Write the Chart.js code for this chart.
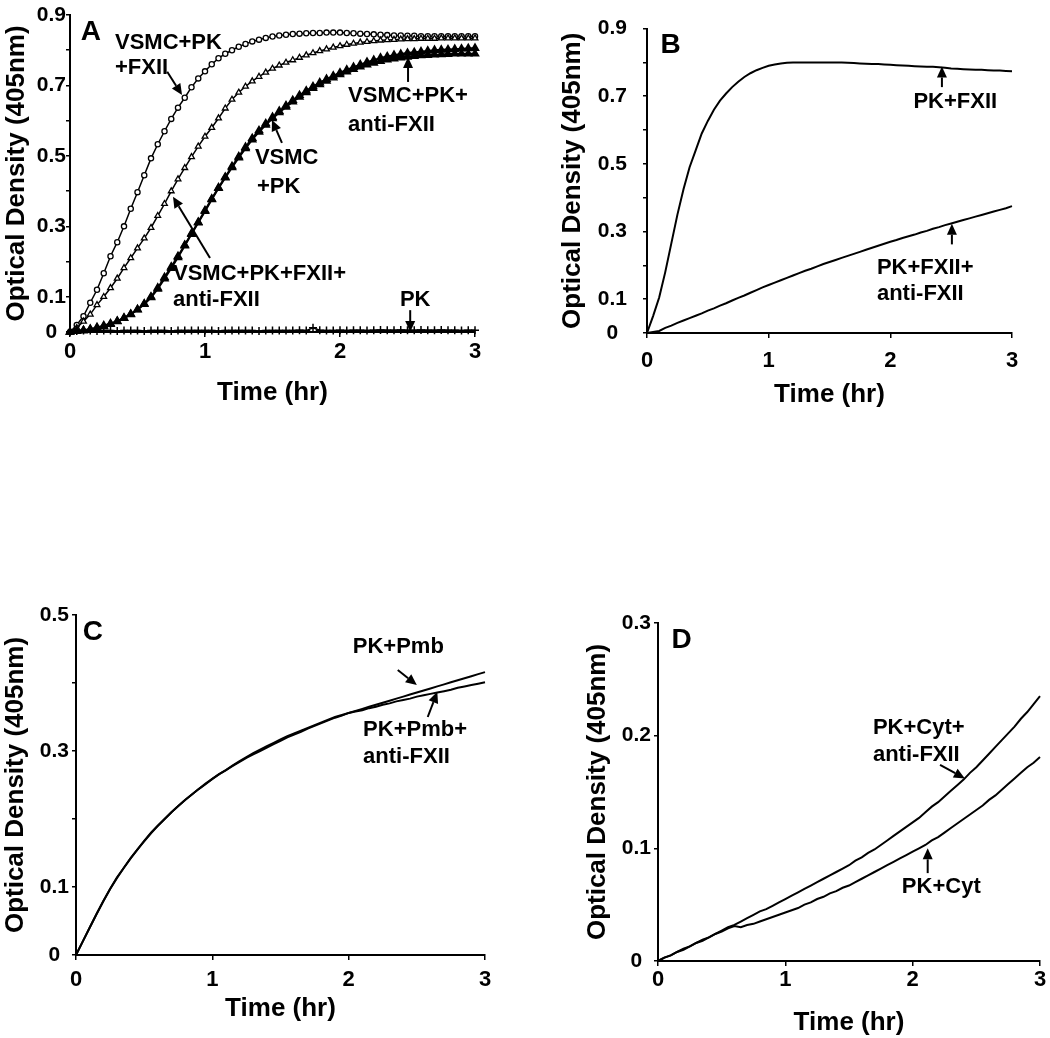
<!DOCTYPE html>
<html>
<head>
<meta charset="utf-8">
<script src="https://cdn.jsdelivr.net/npm/chart.js@4"></script>
<style>
  body { margin: 0; background: #fff; width: 1050px; height: 1038px; position: relative; overflow: hidden; }
  canvas { position: absolute; }
</style>
</head>
<body>
<canvas id="panelA" width="525" height="420" style="left:0;top:0"></canvas>
<canvas id="panelB" width="525" height="420" style="left:525px;top:0"></canvas>
<canvas id="panelC" width="525" height="448" style="left:0;top:590px"></canvas>
<canvas id="panelD" width="525" height="448" style="left:525px;top:590px"></canvas>
<script>
// sampling times (hr), shared by every curve
const TIME = [
  0, 0.05, 0.1, 0.15, 0.2, 0.25, 0.3, 0.35, 0.4, 0.45,
  0.5, 0.55, 0.6, 0.65, 0.7, 0.75, 0.8, 0.85, 0.9, 0.95,
  1.0, 1.05, 1.1, 1.15, 1.2, 1.25, 1.3, 1.35, 1.4, 1.45,
  1.5, 1.55, 1.6, 1.65, 1.7, 1.75, 1.8, 1.85, 1.9, 1.95,
  2.0, 2.05, 2.1, 2.15, 2.2, 2.25, 2.3, 2.35, 2.4, 2.45,
  2.5, 2.55, 2.6, 2.65, 2.7, 2.75, 2.8, 2.85, 2.9, 2.95,
  3.0
];

// ---- panel A ----
const A_VSMC_PK_FXII = [
  0, 0.02, 0.045, 0.083, 0.12, 0.167, 0.215, 0.255, 0.30, 0.35,
  0.397, 0.445, 0.493, 0.533, 0.57, 0.605, 0.637, 0.665, 0.695, 0.72,
  0.74, 0.76, 0.777, 0.79, 0.80, 0.81, 0.818, 0.825, 0.83, 0.835,
  0.839, 0.842, 0.844, 0.846, 0.847, 0.848, 0.849, 0.849, 0.85, 0.85,
  0.85, 0.849, 0.848, 0.847, 0.846, 0.845, 0.844, 0.843, 0.842, 0.842,
  0.841, 0.841, 0.84, 0.84, 0.84, 0.84, 0.84, 0.84, 0.84, 0.84,
  0.84
];
const A_VSMC_PK_FXII_ANTI = [
  0, 0.012, 0.03, 0.05, 0.077, 0.10, 0.125, 0.152, 0.182, 0.21,
  0.238, 0.266, 0.296, 0.33, 0.364, 0.40, 0.434, 0.466, 0.497, 0.527,
  0.555, 0.58, 0.607, 0.635, 0.66, 0.68, 0.697, 0.712, 0.725, 0.737,
  0.748, 0.757, 0.765, 0.772, 0.779, 0.786, 0.792, 0.798, 0.803, 0.808,
  0.812, 0.816, 0.819, 0.822, 0.824, 0.826, 0.828, 0.829, 0.83, 0.831,
  0.832, 0.832, 0.833, 0.833, 0.833, 0.834, 0.834, 0.834, 0.834, 0.834,
  0.834
];
const A_VSMC_PK = [
  0, 0.003, 0.005, 0.008, 0.013, 0.018, 0.024, 0.031, 0.04, 0.051,
  0.064, 0.08, 0.10, 0.125, 0.155, 0.185, 0.215, 0.247, 0.28, 0.312,
  0.345, 0.378, 0.41, 0.44, 0.47, 0.498, 0.525, 0.55, 0.572, 0.592,
  0.61, 0.627, 0.643, 0.658, 0.672, 0.685, 0.697, 0.708, 0.718, 0.727,
  0.736, 0.744, 0.752, 0.759, 0.766, 0.772, 0.778, 0.782, 0.786, 0.789,
  0.792, 0.794, 0.796, 0.798, 0.80, 0.801, 0.802, 0.803, 0.804, 0.805,
  0.806
];
const A_VSMC_PK_ANTI = [
  0, 0.002, 0.004, 0.007, 0.011, 0.016, 0.022, 0.03, 0.039, 0.05,
  0.063, 0.079, 0.098, 0.122, 0.151, 0.181, 0.212, 0.245, 0.278, 0.31,
  0.343, 0.376, 0.408, 0.438, 0.467, 0.495, 0.521, 0.546, 0.568, 0.588,
  0.606, 0.623, 0.639, 0.654, 0.667, 0.68, 0.692, 0.703, 0.713, 0.722,
  0.731, 0.739, 0.746, 0.753, 0.759, 0.764, 0.769, 0.773, 0.776, 0.779,
  0.781, 0.783, 0.785, 0.786, 0.787, 0.788, 0.789, 0.79, 0.79, 0.79,
  0.79
];
const A_PK = [
  0, 0.003, 0.004, 0.004, 0.003, 0.004, 0.004, 0.003, 0.004, 0.004,
  0.004, 0.003, 0.004, 0.004, 0.004, 0.003, 0.004, 0.004, 0.004, 0.004,
  0.004, 0.004, 0.003, 0.004, 0.004, 0.004, 0.004, 0.004, 0.003, 0.004,
  0.004, 0.004, 0.004, 0.004, 0.005, 0.004, 0.012, 0.005, 0.004, 0.004,
  0.005, 0.004, 0.005, 0.005, 0.004, 0.005, 0.006, 0.005, 0.005, 0.006,
  0.005, 0.005, 0.006, 0.005, 0.005, 0.006, 0.005, 0.005, 0.004, 0.005,
  0.005
];

// ---- panel B ----
const B_PK_FXII = [
  0, 0.05, 0.105, 0.18, 0.265, 0.35, 0.425, 0.49, 0.54, 0.59,
  0.627, 0.66, 0.687, 0.708, 0.727, 0.743, 0.757, 0.768, 0.777, 0.784,
  0.79, 0.794, 0.797, 0.799, 0.80, 0.80, 0.80, 0.80, 0.80, 0.80,
  0.80, 0.80, 0.80, 0.799, 0.798, 0.797, 0.796, 0.795, 0.795, 0.794,
  0.793, 0.792, 0.791, 0.79, 0.789, 0.788, 0.787, 0.787, 0.786, 0.784,
  0.782, 0.781, 0.78, 0.779, 0.778, 0.778, 0.777, 0.776, 0.776, 0.775,
  0.774
];
const B_PK_FXII_ANTI = [
  0, 0.003, 0.006, 0.015, 0.022, 0.03, 0.037, 0.044, 0.051, 0.058,
  0.066, 0.073, 0.081, 0.088, 0.096, 0.104, 0.111, 0.119, 0.127, 0.135,
  0.142, 0.149, 0.156, 0.163, 0.17, 0.177, 0.184, 0.19, 0.197, 0.204,
  0.21, 0.216, 0.222, 0.228, 0.234, 0.24, 0.246, 0.252, 0.258, 0.264,
  0.27, 0.275, 0.281, 0.286, 0.291, 0.297, 0.302, 0.308, 0.313, 0.319,
  0.324, 0.329, 0.334, 0.339, 0.344, 0.349, 0.354, 0.359, 0.364, 0.369,
  0.375
];

// ---- panel C ----
const C_PK_PMB = [
  0, 0.02, 0.04, 0.06, 0.079, 0.097, 0.114, 0.128, 0.142, 0.155,
  0.168, 0.18, 0.19, 0.20, 0.21, 0.219, 0.228, 0.236, 0.244, 0.252,
  0.259, 0.266, 0.272, 0.278, 0.284, 0.29, 0.295, 0.30, 0.305, 0.31,
  0.315, 0.32, 0.324, 0.328, 0.333, 0.337, 0.341, 0.345, 0.349, 0.352,
  0.356, 0.359, 0.362, 0.365, 0.368, 0.371, 0.374, 0.377, 0.38, 0.383,
  0.386, 0.389, 0.392, 0.395, 0.398, 0.401, 0.404, 0.407, 0.41, 0.413,
  0.416
];
const C_PK_PMB_ANTI = [
  0, 0.02, 0.04, 0.06, 0.079, 0.097, 0.113, 0.128, 0.142, 0.155,
  0.167, 0.179, 0.19, 0.20, 0.21, 0.219, 0.228, 0.236, 0.244, 0.251,
  0.259, 0.266, 0.272, 0.279, 0.285, 0.291, 0.297, 0.302, 0.307, 0.312,
  0.317, 0.322, 0.326, 0.33, 0.334, 0.338, 0.342, 0.346, 0.35, 0.353,
  0.356, 0.358, 0.36, 0.363, 0.365, 0.368, 0.37, 0.373, 0.375, 0.377,
  0.38, 0.382, 0.384, 0.386, 0.388, 0.39, 0.393, 0.395, 0.397, 0.399,
  0.401
];

// ---- panel D ----
const D_PK_CYT_ANTI = [
  0, 0.003, 0.005, 0.008, 0.01, 0.013, 0.016, 0.018, 0.021, 0.024,
  0.027, 0.03, 0.032, 0.035, 0.038, 0.041, 0.044, 0.046, 0.049, 0.052,
  0.055, 0.058, 0.061, 0.064, 0.067, 0.07, 0.073, 0.076, 0.079, 0.082,
  0.085, 0.089, 0.092, 0.096, 0.099, 0.103, 0.107, 0.111, 0.115, 0.119,
  0.123, 0.127, 0.132, 0.137, 0.141, 0.146, 0.151, 0.156, 0.161, 0.167,
  0.172, 0.178, 0.184, 0.19, 0.196, 0.202, 0.208, 0.215, 0.221, 0.228,
  0.235
];
const D_PK_CYT = [
  0, 0.003, 0.005, 0.008, 0.011, 0.013, 0.016, 0.019, 0.021, 0.024,
  0.026, 0.029, 0.031, 0.03, 0.032, 0.033, 0.035, 0.037, 0.039, 0.041,
  0.043, 0.045, 0.047, 0.05, 0.052, 0.055, 0.057, 0.06, 0.062, 0.065,
  0.067, 0.07, 0.073, 0.076, 0.079, 0.082, 0.085, 0.088, 0.091, 0.094,
  0.097, 0.10, 0.103, 0.107, 0.11, 0.114, 0.118, 0.122, 0.126, 0.13,
  0.134, 0.138, 0.143, 0.147, 0.152, 0.157, 0.162, 0.167, 0.172, 0.176,
  0.181
];

// labelled ticks
const X_LABELS = [0, 1, 2, 3];
const A_Y_LABELS = [0, 0.1, 0.3, 0.5, 0.7, 0.9];
const B_Y_LABELS = [0, 0.1, 0.3, 0.5, 0.7, 0.9];
const C_Y_LABELS = [0, 0.1, 0.3, 0.5];
const D_Y_LABELS = [0, 0.1, 0.2, 0.3];

const FONT = '"Liberation Sans", Arial, Helvetica, sans-serif';
Chart.defaults.font.family = FONT;
Chart.defaults.color = '#000';

function labelOf(v, list) {
  const hit = list.find(l => Math.abs(l - v) < 1e-6);
  return hit === undefined ? '' : String(hit);
}

function series(values, extra) {
  return Object.assign({
    data: TIME.map((t, i) => ({ x: t, y: values[i] })),
    borderColor: '#000',
    borderWidth: 2,
    pointRadius: 0,
    tension: 0,
    clip: false
  }, extra || {});
}

// text labels and arrows placed in data coordinates
const notesPlugin = {
  id: 'notes',
  afterDatasetsDraw(chart, args, opts) {
    const ctx = chart.ctx;
    const xs = chart.scales.x, ys = chart.scales.y;
    ctx.save();
    ctx.fillStyle = '#000';
    ctx.strokeStyle = '#000';
    (opts.texts || []).forEach(n => {
      ctx.font = 'bold ' + (n.size || 22) + 'px ' + FONT;
      ctx.textAlign = 'left';
      ctx.textBaseline = 'middle';
      ctx.fillText(n.text, xs.getPixelForValue(n.t), ys.getPixelForValue(n.v));
    });
    (opts.arrows || []).forEach(a => {
      const x0 = xs.getPixelForValue(a.from[0]), y0 = ys.getPixelForValue(a.from[1]);
      const x1 = xs.getPixelForValue(a.to[0]), y1 = ys.getPixelForValue(a.to[1]);
      const ang = Math.atan2(y1 - y0, x1 - x0);
      const head = 11, half = 5;
      const bx = x1 - head * Math.cos(ang), by = y1 - head * Math.sin(ang);
      ctx.lineWidth = 2;
      ctx.beginPath();
      ctx.moveTo(x0, y0);
      ctx.lineTo(bx, by);
      ctx.stroke();
      ctx.beginPath();
      ctx.moveTo(x1, y1);
      ctx.lineTo(bx + half * Math.sin(ang), by - half * Math.cos(ang));
      ctx.lineTo(bx - half * Math.sin(ang), by + half * Math.cos(ang));
      ctx.closePath();
      ctx.fill();
    });
    ctx.restore();
  }
};

function makePanel(id, p) {
  new Chart(document.getElementById(id), {
    type: 'line',
    data: { datasets: p.datasets },
    plugins: [notesPlugin],
    options: {
      responsive: false,
      animation: false,
      devicePixelRatio: 1,
      layout: { padding: p.pad },
      plugins: {
        legend: { display: false },
        tooltip: { enabled: false },
        notes: p.notes
      },
      scales: {
        x: {
          type: 'linear',
          min: 0, max: 3,
          afterFit: s => { s.height = p.xH; },
          border: { color: '#000', width: 2 },
          grid: { drawOnChartArea: false, drawTicks: true, tickLength: 5, color: '#000', lineWidth: 1.5 },
          ticks: {
            stepSize: 1,
            padding: p.xPad,
            maxRotation: 0,
            font: { size: 22, weight: 'bold' },
            callback: v => labelOf(v, X_LABELS)
          },
          title: {
            display: true,
            text: 'Time (hr)',
            font: { size: 26, weight: 'bold' },
            padding: 0
          }
        },
        y: {
          min: 0, max: p.yMax,
          afterFit: s => { s.width = p.yW; },
          border: { color: '#000', width: 2 },
          grid: { drawOnChartArea: false, drawTicks: true, tickLength: 4, color: '#000', lineWidth: 1.5 },
          ticks: {
            stepSize: 0.1,
            autoSkip: false,
            padding: p.yPad,
            crossAlign: 'center',
            font: { size: 21, weight: 'bold' },
            callback: v => labelOf(v, p.yLabels)
          },
          title: {
            display: true,
            text: 'Optical Density (405nm)',
            font: { size: 26, weight: 'bold' },
            padding: 0
          }
        }
      }
    }
  });
}

makePanel('panelA', {
  pad: { left: 1, right: 50, top: 15, bottom: 12 },
  yW: 69, xH: 76, xPad: 2, yPad: 0, yMax: 0.9, yLabels: A_Y_LABELS,
  datasets: [
    series(A_PK, { borderWidth: 1.5, pointRadius: 4, pointStyle: 'cross', pointBorderWidth: 1.5, pointBorderColor: '#000' }),
    series(A_VSMC_PK, { borderWidth: 2, pointRadius: 3.6, pointStyle: 'triangle', pointBackgroundColor: '#000', pointBorderColor: '#000' }),
    series(A_VSMC_PK_ANTI, { borderWidth: 2, pointRadius: 3.6, pointStyle: 'triangle', pointBackgroundColor: '#000', pointBorderColor: '#000' }),
    series(A_VSMC_PK_FXII_ANTI, { borderWidth: 1.5, pointRadius: 3.3, pointStyle: 'triangle', pointBackgroundColor: '#fff', pointBorderColor: '#000', pointBorderWidth: 1.3 }),
    series(A_VSMC_PK_FXII, { borderWidth: 1.5, pointRadius: 2.6, pointStyle: 'circle', pointBackgroundColor: '#fff', pointBorderColor: '#000', pointBorderWidth: 1.3 })
  ],
  notes: {
    texts: [
      { t: 0.08, v: 0.852, text: 'A', size: 28 },
      { t: 0.333, v: 0.821, text: 'VSMC+PK' },
      { t: 0.333, v: 0.75, text: '+FXII' },
      { t: 1.37, v: 0.494, text: 'VSMC' },
      { t: 1.385, v: 0.412, text: '+PK' },
      { t: 2.06, v: 0.67, text: 'VSMC+PK+' },
      { t: 2.06, v: 0.588, text: 'anti-FXII' },
      { t: 0.763, v: 0.165, text: 'VSMC+PK+FXII+' },
      { t: 0.763, v: 0.091, text: 'anti-FXII' },
      { t: 2.444, v: 0.091, text: 'PK' }
    ],
    arrows: [
      { from: [0.72, 0.739], to: [0.83, 0.673] },
      { from: [1.57, 0.537], to: [1.496, 0.602] },
      { from: [2.504, 0.71], to: [2.504, 0.781] },
      { from: [1.037, 0.21], to: [0.763, 0.384] },
      { from: [2.52, 0.062], to: [2.52, 0.0] }
    ]
  }
});

makePanel('panelB', {
  pad: { left: 32, right: 38, top: 23, bottom: 10 },
  yW: 90, xH: 77, xPad: 10, yPad: 16, yMax: 0.9, yLabels: B_Y_LABELS,
  datasets: [
    series(B_PK_FXII),
    series(B_PK_FXII_ANTI)
  ],
  notes: {
    texts: [
      { t: 0.11, v: 0.852, text: 'B', size: 28 },
      { t: 2.19, v: 0.683, text: 'PK+FXII' },
      { t: 1.89, v: 0.192, text: 'PK+FXII+' },
      { t: 1.89, v: 0.116, text: 'anti-FXII' }
    ],
    arrows: [
      { from: [2.424, 0.727], to: [2.424, 0.788] },
      { from: [2.506, 0.262], to: [2.506, 0.323] }
    ]
  }
});

makePanel('panelC', {
  pad: { left: 0, right: 40, top: 25, bottom: 14 },
  yW: 76, xH: 69, xPad: 7, yPad: 3, yMax: 0.5, yLabels: C_Y_LABELS,
  datasets: [
    series(C_PK_PMB),
    series(C_PK_PMB_ANTI)
  ],
  notes: {
    texts: [
      { t: 0.05, v: 0.475, text: 'C', size: 28 },
      { t: 2.03, v: 0.453, text: 'PK+Pmb' },
      { t: 2.106, v: 0.331, text: 'PK+Pmb+' },
      { t: 2.106, v: 0.291, text: 'anti-FXII' }
    ],
    arrows: [
      { from: [2.36, 0.419], to: [2.5, 0.397] },
      { from: [2.58, 0.35], to: [2.65, 0.387] }
    ]
  }
});

makePanel('panelD', {
  pad: { left: 57, right: 10, top: 33, bottom: 0 },
  yW: 76, xH: 77, xPad: 1, yPad: 3, yMax: 0.3, yLabels: D_Y_LABELS,
  datasets: [
    series(D_PK_CYT_ANTI),
    series(D_PK_CYT)
  ],
  notes: {
    texts: [
      { t: 0.107, v: 0.285, text: 'D', size: 28 },
      { t: 1.688, v: 0.207, text: 'PK+Cyt+' },
      { t: 1.688, v: 0.183, text: 'anti-FXII' },
      { t: 1.915, v: 0.0655, text: 'PK+Cyt' }
    ],
    arrows: [
      { from: [2.215, 0.174], to: [2.41, 0.162] },
      { from: [2.118, 0.078], to: [2.118, 0.1] }
    ]
  }
});
</script>
</body>
</html>
